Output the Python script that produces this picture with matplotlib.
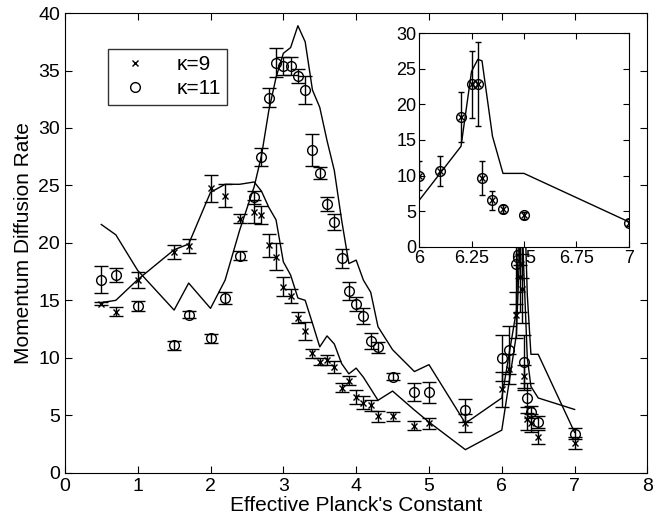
import numpy as np
import matplotlib
matplotlib.use('Agg')
import matplotlib.pyplot as plt
from matplotlib.lines import Line2D

plt.rcParams['font.family'] = ['Liberation Sans', 'DejaVu Sans']

# measured points, kappa = 9
k9_x = [0.5, 0.7, 1.0, 1.5, 1.7, 2.0, 2.2, 2.4, 2.6, 2.7, 2.8, 2.9, 3.0, 3.1, 3.2, 3.3, 3.4, 3.5,
        3.6, 3.7, 3.8, 3.9, 4.0, 4.1, 4.2, 4.3, 4.5, 4.8, 5.0, 5.5, 6.0, 6.1, 6.2, 6.25, 6.28,
        6.3, 6.35, 6.4, 6.5, 7.0]
k9_y = [14.7, 14.0, 16.75, 19.2, 19.7, 24.75, 24.1, 22.1, 22.7, 22.4, 19.8, 18.8, 16.2, 15.4, 13.5,
        12.35, 10.4, 9.65, 9.8, 9.2, 7.4, 8.0, 6.6, 6.1, 5.85, 4.9, 4.9, 4.1, 4.3, 4.3, 7.25, 9.0,
        13.7, 17.0, 16.0, 8.4, 4.7, 4.3, 3.1, 2.6]
k9_err = [0.15, 0.4, 0.7, 0.6, 0.6, 1.2, 1.0, 0.4, 1.0, 0.8, 1.0, 1.2, 0.8, 0.6, 0.5, 0.8, 0.4, 0.3,
          0.4, 0.5, 0.4, 0.4, 0.6, 0.6, 0.5, 0.5, 0.4, 0.4, 0.5, 0.8, 1.5, 1.3, 2.0, 3.0, 3.0,
          1.0, 1.0, 0.8, 0.6, 0.5]

# measured points, kappa = 11
k11_x = [0.5, 0.7, 1.0, 1.5, 1.7, 2.0, 2.2, 2.4, 2.6, 2.7, 2.8, 2.9, 3.0, 3.1, 3.2, 3.3, 3.4, 3.5,
         3.6, 3.7, 3.8, 3.9, 4.0, 4.1, 4.2, 4.3, 4.5, 4.8, 5.0, 5.5, 6.0, 6.1, 6.2, 6.25, 6.28,
         6.3, 6.35, 6.4, 6.5, 7.0]
k11_y = [16.8, 17.2, 14.5, 11.1, 13.75, 11.7, 15.2, 18.9, 23.95, 27.45, 32.65, 35.7, 35.4, 35.4,
         34.5, 33.3, 28.1, 26.1, 23.35, 21.8, 18.65, 15.8, 14.7, 13.65, 11.45, 10.9, 8.35, 7.0,
         7.0, 5.45, 10.0, 10.7, 18.2, 22.8, 22.8, 9.6, 6.5, 5.3, 4.4, 3.4]
k11_err = [1.2, 0.6, 0.4, 0.4, 0.3, 0.4, 0.5, 0.4, 0.6, 0.8, 0.8, 1.3, 0.8, 0.8, 0.6, 1.2, 1.4, 0.5,
           0.6, 0.7, 0.8, 0.8, 0.6, 0.7, 0.7, 0.5, 0.3, 0.8, 0.9, 1.0, 2.0, 2.1, 3.5, 4.7, 5.9,
           2.4, 1.3, 0.5, 0.5, 0.5]

# theory curves
th9_x = [0.5, 0.7, 1.0, 1.5, 1.7, 2.0, 2.2, 2.4, 2.6, 2.7, 2.8, 2.9, 3.0, 3.1, 3.2, 3.3, 3.4, 3.5,
         3.6, 3.7, 3.8, 3.9, 4.0, 4.1, 4.2, 4.3, 4.5, 4.8, 5.0, 5.5, 6.0, 6.2, 6.25, 6.28, 6.3,
         6.35, 6.4, 6.5, 7.0]
th9_y = [14.8, 15.0, 16.8, 19.4, 19.9, 24.4, 25.1, 25.1, 25.3, 24.5, 23.1, 22.0, 18.35, 17.2, 15.2,
         15.0, 13.0, 10.95, 11.9, 11.2, 9.5, 8.6, 9.1, 8.3, 7.3, 6.3, 7.1, 5.45, 4.4, 2.0, 3.7,
         12.0, 20.0, 22.0, 18.0, 10.0, 7.5, 6.5, 5.5]

th11_x = [0.5, 0.7, 1.0, 1.5, 1.7, 2.0, 2.2, 2.4, 2.6, 2.7, 2.8, 2.9, 3.0, 3.1, 3.2, 3.3, 3.4, 3.5,
          3.6, 3.7, 3.8, 3.9, 4.0, 4.1, 4.2, 4.3, 4.5, 4.8, 5.0, 5.5, 6.0, 6.2, 6.25, 6.28, 6.3,
          6.35, 6.4, 6.5, 7.0]
th11_y = [21.6, 20.7, 17.6, 14.15, 16.5, 14.3, 16.75, 21.1, 24.9, 27.6, 31.5, 34.4, 36.5, 37.0,
          38.9, 37.5, 33.3, 31.8, 28.9, 26.3, 22.0, 18.2, 18.5, 16.75, 15.7, 12.7, 10.7, 8.8, 9.4,
          4.3, 6.5, 14.1, 24.6, 26.3, 26.1, 15.5, 10.3, 10.3, 3.5]

fig = plt.figure(figsize=(6.62, 5.24), dpi=100)
ax = fig.add_axes([0.098, 0.098, 0.880, 0.877])

ax.plot(th9_x, th9_y, color='black', lw=1.0)
ax.plot(th11_x, th11_y, color='black', lw=1.0)
ax.errorbar(k9_x, k9_y, yerr=k9_err, fmt='x', color='black', ms=4, mew=1.0,
            elinewidth=1.0, capsize=5, capthick=1.0)
ax.errorbar(k11_x, k11_y, yerr=k11_err, fmt='o', color='black', mfc='none', ms=7, mew=1.0,
            elinewidth=1.0, capsize=5, capthick=1.0)

ax.set_xlim(0, 8)
ax.set_ylim(0, 40)
ax.set_xticks(range(0, 9))
ax.set_yticks(range(0, 41, 5))
ax.tick_params(direction='in', top=True, right=True, labelsize=14, length=5)
ax.set_xlabel("Effective Planck's Constant", fontsize=15, labelpad=1)
ax.set_ylabel('Momentum Diffusion Rate', fontsize=15, labelpad=4)

handles = [Line2D([], [], ls='none', marker='x', color='black', ms=5, mew=1.0),
           Line2D([], [], ls='none', marker='o', color='black', mfc='none', ms=7, mew=1.0)]
leg = ax.legend(handles, ['\u03ba=9', '\u03ba=11'], loc='upper left', bbox_to_anchor=(0.074, 0.922),
                borderaxespad=0, fontsize=15, frameon=True, fancybox=False, edgecolor='black',
                handletextpad=1.0, borderpad=0.3, labelspacing=0.25, handlelength=2.0)
leg.get_frame().set_linewidth(1.0)

# inset zoom on the peak near 6.3
ins = fig.add_axes([0.633, 0.529, 0.317, 0.408])
ins.plot(th11_x, th11_y, color='black', lw=1.0)
ins.errorbar(k11_x, k11_y, yerr=k11_err, fmt='o', color='black', mfc='none', ms=7, mew=1.0,
             elinewidth=1.0, capsize=2.5, capthick=1.0)
ins.plot(k11_x, k11_y, 'x', color='black', ms=4, mew=1.0)
ins.set_xlim(6, 7)
ins.set_ylim(0, 30)
ins.set_xticks([6, 6.25, 6.5, 6.75, 7])
ins.set_xticklabels(['6', '6.25', '6.5', '6.75', '7'])
ins.set_yticks(range(0, 31, 5))
ins.tick_params(direction='in', top=True, right=True, labelsize=13, length=4, pad=2)

fig.savefig('out.png', dpi=100)
